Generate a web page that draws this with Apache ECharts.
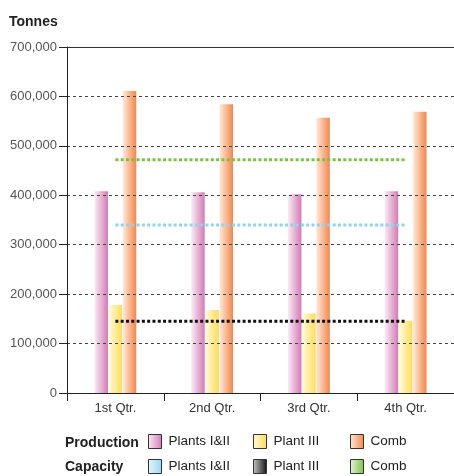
<!DOCTYPE html>
<html><head><meta charset="utf-8">
<script src="https://cdn.jsdelivr.net/npm/echarts@6/dist/echarts.min.js"></script>
<style>html,body{margin:0;padding:0;background:#fff}#c{width:454px;height:476px}</style>
</head><body><div id="c"></div>
<script>
var categories = ['1st Qtr.', '2nd Qtr.', '3rd Qtr.', '4th Qtr.'];
var prodPlants12 = [408000, 406000, 402000, 408000];
var prodPlant3 = [178000, 168000, 161000, 146000];
var prodComb = [611000, 584000, 557000, 569000];
var capPlants12 = [340000, 340000, 340000, 340000];
var capPlant3 = [145000, 145000, 145000, 145000];
var capComb = [472000, 472000, 472000, 472000];
var yTicks = [0, 100000, 200000, 300000, 400000, 500000, 600000, 700000];

function grad(a, b) {
  return {type:'linear', x:0, y:0, x2:1, y2:0, colorStops:[{offset:0,color:a},{offset:1,color:b}]};
}
var FONT = '"Liberation Sans", Arial, sans-serif';
var cPink = grad('#f8ecf5', '#d57ab5');
var cYellow = grad('#fffbe4', '#ffdd55');
var cOrange = grad('#feeadb', '#f5864a');
var cBlue = grad('#e6f6fd', '#96d6f2');
var cBlack = grad('#c8c8c8', '#111111');
var cGreen = grad('#e4f4d8', '#7cc242');

var chart = echarts.init(document.getElementById('c'), null, {renderer:'canvas'});

function legendAt(name, color, left, top) {
  return {
    left: left, top: top, padding: 0, itemWidth: 13, itemHeight: 14, itemGap: 0,
    selectedMode: false, icon: 'rect',
    formatter: function (n) { return n.replace(/^(Production|Capacity) /, ''); },
    textStyle: {fontFamily: FONT, fontSize: 13.5, color: '#222', padding: [0, 0, 0, 2]},
    data: [{name: name, icon: 'rect', itemStyle: {color: color, borderColor: '#333', borderWidth: 1}}]
  };
}

var option = {
  animation: false,
  textStyle: {fontFamily: FONT},
  title: [
    {text: 'Tonnes', left: 9, top: 15, padding: 0, textStyle: {fontFamily: FONT, fontSize: 14, fontWeight: 'bold', color: '#222'}},
    {text: 'Production', left: 65, top: 436, padding: 0, textStyle: {fontFamily: FONT, fontSize: 14, fontWeight: 'bold', color: '#222'}},
    {text: 'Capacity', left: 65, top: 460, padding: 0, textStyle: {fontFamily: FONT, fontSize: 14, fontWeight: 'bold', color: '#222'}}
  ],
  legend: [
    legendAt('Production Plants I&II', cPink, 148, 434),
    legendAt('Production Plant III', cYellow, 253, 434),
    legendAt('Production Comb', cOrange, 350, 434),
    legendAt('Capacity Plants I&II', cBlue, 148, 459),
    legendAt('Capacity Plant III', cBlack, 253, 459),
    legendAt('Capacity Comb', cGreen, 350, 459)
  ],
  grid: {left: 67, top: 47, width: 390, height: 346, containLabel: false},
  xAxis: [{
    type: 'category', data: categories, boundaryGap: true, z: 3,
    axisLine: {show: true, lineStyle: {color: '#222', width: 1}},
    axisTick: {show: true, length: 8, alignWithLabel: false, lineStyle: {color: '#222'}},
    axisLabel: {color: '#333', fontSize: 13, margin: 9, fontFamily: FONT}
  }, {
    type: 'category', data: categories, position: 'top', z: 3,
    axisLine: {show: true, lineStyle: {color: '#333', width: 1}},
    axisTick: {show: false}, axisLabel: {show: false}
  }],
  yAxis: {
    type: 'value', min: yTicks[0], max: yTicks[yTicks.length - 1], interval: 100000, z: 3,
    axisLine: {show: true, lineStyle: {color: '#222', width: 1}},
    axisTick: {show: true, length: 8, lineStyle: {color: '#222'}},
    axisLabel: {color: '#555', fontSize: 13, margin: 10, fontFamily: FONT,
      formatter: function (v) { return v.toLocaleString('en-US'); }},
    splitLine: {show: true, lineStyle: {color: '#444', width: 1, type: [3, 3]}}
  },
  series: [
    {name: 'Production Plants I&II', type: 'bar', data: prodPlants12, barWidth: 13.5, barGap: '5%', itemStyle: {color: cPink}},
    {name: 'Production Plant III', type: 'bar', data: prodPlant3, barWidth: 13.5, barGap: '5%', itemStyle: {color: cYellow}},
    {name: 'Production Comb', type: 'bar', data: prodComb, barWidth: 13.5, barGap: '5%', itemStyle: {color: cOrange}},
    {name: 'Capacity Plants I&II', type: 'line', data: capPlants12, symbol: 'none', z: 5,
      lineStyle: {color: '#8fd4f2', width: 3, type: [3, 2.3]}, itemStyle: {color: cBlue}},
    {name: 'Capacity Plant III', type: 'line', data: capPlant3, symbol: 'none', z: 5,
      lineStyle: {color: '#111', width: 3, type: [3, 2.3]}, itemStyle: {color: cBlack}},
    {name: 'Capacity Comb', type: 'line', data: capComb, symbol: 'none', z: 5,
      lineStyle: {color: '#7cc242', width: 3, type: [3, 2.3]}, itemStyle: {color: cGreen}}
  ]
};
chart.setOption(option);
</script>
</body></html>
